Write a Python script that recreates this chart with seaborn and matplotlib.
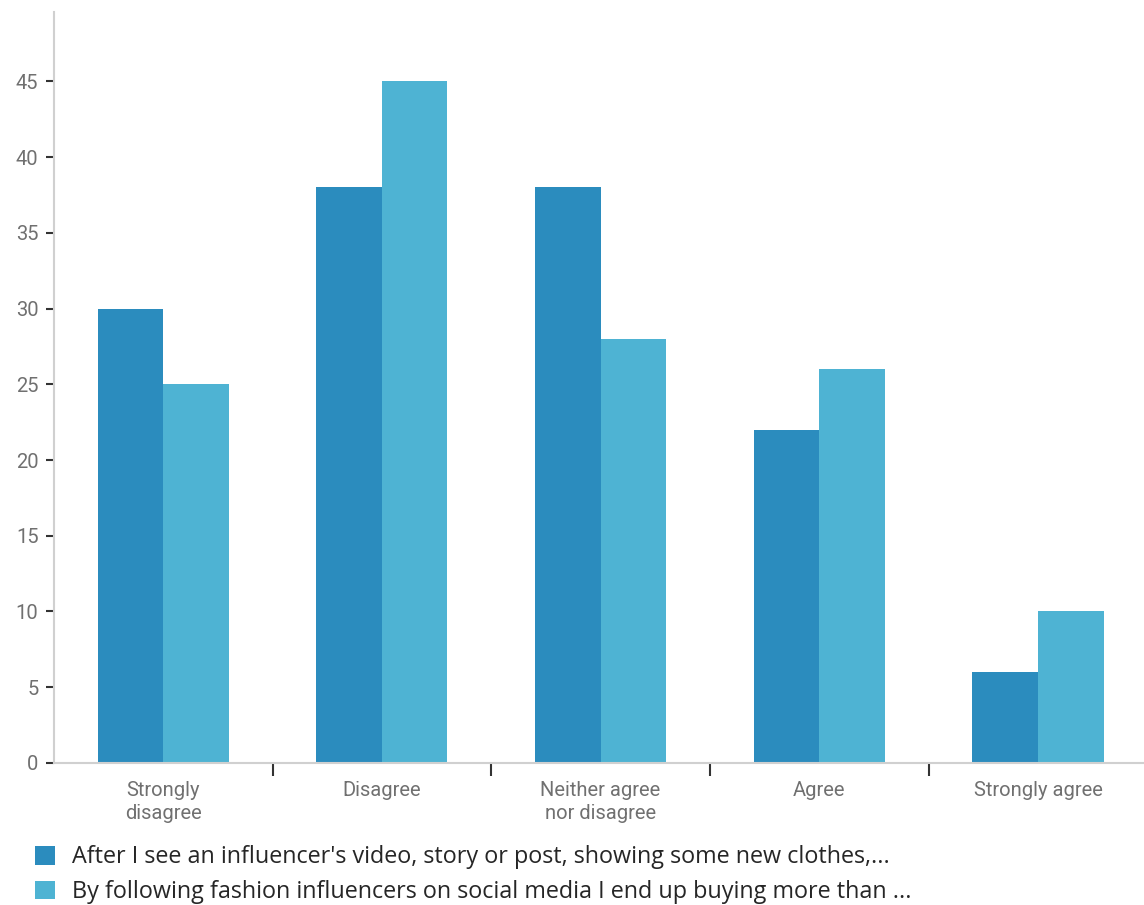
import matplotlib
matplotlib.use("Agg")
import matplotlib.pyplot as plt
import seaborn as sns
import pandas as pd
from matplotlib.patches import Patch

categories = ["Strongly\ndisagree", "Disagree", "Neither agree\nnor disagree", "Agree", "Strongly agree"]
series_names = [
    "After I see an influencer's video, story or post, showing some new clothes,...",
    "By following fashion influencers on social media I end up buying more than ...",
]
after_seeing = [30, 38, 38, 22, 6]
buying_more = [25, 45, 28, 26, 10]
colors = ["#2b8cbe", "#4eb3d3"]
y_ticks = [0, 5, 10, 15, 20, 25, 30, 35, 40, 45]

df = pd.DataFrame({
    "category": categories * 2,
    "series": [series_names[0]] * 5 + [series_names[1]] * 5,
    "value": after_seeing + buying_more,
})

sns.set_style("white")
plt.rcParams["font.family"] = ["Roboto", "DejaVu Sans"]

fig = plt.figure(figsize=(11.44, 9.05), dpi=100)
ax = fig.add_axes([0.047, 0.157, 0.956, 0.83])

sns.barplot(data=df, x="category", y="value", hue="series", order=categories,
            hue_order=series_names, palette=colors, width=0.6, saturation=1,
            linewidth=0, ax=ax, legend=False)

ax.set_xlim(-0.5, 4.5)
ax.set_ylim(0, 49.6)
ax.set_xlabel("")
ax.set_ylabel("")

# y axis
ax.set_yticks(y_ticks)
ax.set_yticklabels([str(v) for v in y_ticks], fontsize=14.5, color="#707070")
ax.tick_params(axis="y", length=6, width=1.5, color="#333333", pad=5, left=True)

# x axis: separators between categories as major ticks, labels at centers
ax.set_xticks([0.5, 1.5, 2.5, 3.5])
ax.set_xticklabels([])
ax.tick_params(axis="x", which="major", length=9, width=1.5, color="#333333", direction="out",
               bottom=True)
ax.set_xticks(range(len(categories)), minor=True)
ax.set_xticklabels(categories, minor=True, fontsize=14.5, color="#707070", linespacing=1.3)
ax.tick_params(axis="x", which="minor", length=0, pad=13)

for side in ["top", "right"]:
    ax.spines[side].set_visible(False)
for side in ["left", "bottom"]:
    ax.spines[side].set_color("#d0d0d0")
    ax.spines[side].set_linewidth(1.5)

handles = [Patch(facecolor=c, edgecolor="none") for c in colors]
fig.legend(handles, series_names, loc="lower left", bbox_to_anchor=(0.012, -0.022),
           frameon=False, handlelength=0.85, handleheight=0.85,
           handletextpad=0.75, labelspacing=0.45,
           prop={"family": ["Open Sans", "DejaVu Sans"], "size": 16.8})

fig.savefig("out.png", dpi=100)
